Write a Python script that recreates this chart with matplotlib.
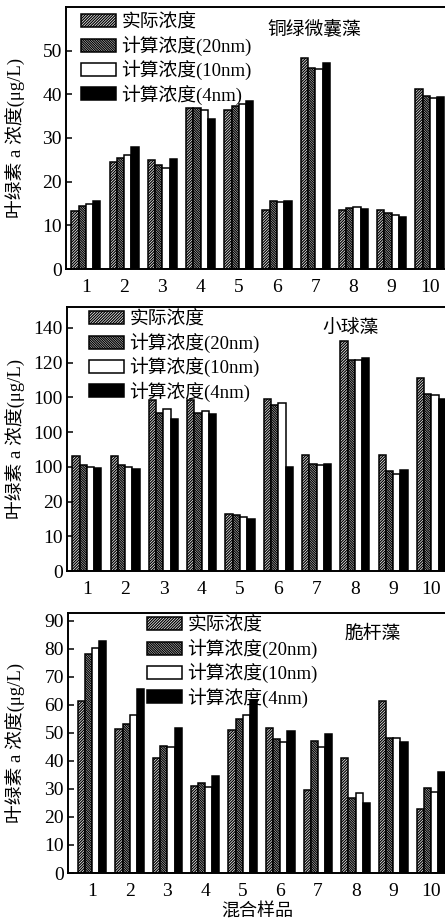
import matplotlib
matplotlib.use('Agg')
import matplotlib.pyplot as plt
import numpy as np

plt.rcParams['font.family'] = ['Liberation Serif', 'Noto Sans CJK SC']
plt.rcParams['hatch.linewidth'] = 0.9

samples = ['1', '2', '3', '4', '5', '6', '7', '8', '9', '10']
series_names = ['实际浓度', '计算浓度(20nm)', '计算浓度(10nm)', '计算浓度(4nm)']

# 铜绿微囊藻
tl_actual = [13.2, 24.5, 24.9, 36.8, 36.5, 13.4, 48.3, 13.4, 13.4, 41.2]
tl_20nm = [14.4, 25.4, 23.9, 36.9, 37.4, 15.6, 46.1, 13.9, 12.8, 39.7]
tl_10nm = [14.8, 26.1, 23.2, 36.4, 37.7, 15.4, 45.8, 14.2, 12.3, 39.1]
tl_4nm = [15.5, 27.9, 25.1, 34.4, 38.5, 15.6, 47.2, 13.8, 11.9, 39.5]

# 小球藻
xq_actual = [66.4, 66.4, 98.6, 98.6, 33.0, 98.8, 66.6, 132.3, 67.0, 111.0]
xq_20nm = [61.2, 61.0, 91.0, 91.0, 32.4, 95.7, 61.8, 121.2, 57.5, 102.0]
xq_10nm = [59.8, 60.0, 93.2, 92.4, 31.0, 96.7, 61.2, 121.6, 56.0, 101.3]
xq_4nm = [59.3, 58.7, 87.6, 90.5, 30.0, 59.8, 61.4, 122.6, 58.3, 99.2]

# 脆杆藻
cg_actual = [61.4, 51.5, 41.2, 31.0, 51.0, 51.7, 29.7, 41.1, 61.4, 23.0]
cg_20nm = [78.1, 53.2, 45.4, 32.3, 55.1, 48.0, 47.0, 26.8, 48.3, 30.4]
cg_10nm = [80.4, 56.4, 44.8, 30.8, 56.3, 46.9, 44.9, 28.4, 48.3, 28.9]
cg_4nm = [82.9, 65.6, 51.7, 34.8, 61.8, 50.7, 49.5, 25.1, 46.6, 35.9]

tl_yticks = [0, 10, 20, 30, 40, 50]
tl_ylabels = ['0', '10', '20', '30', '40', '50']
xq_yticks = [0, 20, 40, 60, 80, 100, 120, 140]
xq_ylabels = ['0', '10', '20', '100', '100', '100', '120', '140']
cg_yticks = [0, 10, 20, 30, 40, 50, 60, 70, 80, 90]
cg_ylabels = ['0', '10', '20', '30', '40', '50', '60', '70', '80', '90']

W, H = 445, 924
fig = plt.figure(figsize=(W / 100, H / 100), dpi=100)

styles = [
    dict(facecolor='white', hatch='////////////', edgecolor='black'),
    dict(facecolor='white', hatch='\\\\\\\\\\\\\\\\\\\\\\\\\\\\', edgecolor='black'),
    dict(facecolor='white', edgecolor='black'),
    dict(facecolor='black', edgecolor='black'),
]


def panel(box, data, title, title_xy, yticks, ylabels, ylim, xlim, leg_anchor):
    left, top, right, bottom = box
    ax = fig.add_axes([left / W, 1 - bottom / H, (right - left) / W, (bottom - top) / H])
    x = np.arange(1, len(samples) + 1)
    bw = 0.19
    for i, vals in enumerate(data):
        ax.bar(x + (i - 1.5) * bw, vals, bw, linewidth=1.1, label=series_names[i], **styles[i])
    ax.set_xlim(*xlim)
    ax.set_ylim(*ylim)
    ax.set_xticks(x)
    ax.set_xticklabels(samples, fontsize=14)
    ax.set_yticks(yticks)
    ax.set_yticklabels(ylabels, fontsize=14)
    ax.tick_params(axis='y', direction='in', length=4, width=1.1, pad=3)
    ax.tick_params(axis='x', length=0, pad=7)
    for s in ax.spines.values():
        s.set_linewidth(1.4)
    ax.set_ylabel('叶绿素 a 浓度(μg/L)', fontsize=13.5)
    ax.yaxis.set_label_coords((26 - left) / (right - left), 0.5)
    fig.text(title_xy[0] / W, 1 - title_xy[1] / H, title,
             fontsize=13.5, ha='left', va='center')
    ax.legend(loc='upper left', bbox_to_anchor=(leg_anchor[0] / W, 1 - leg_anchor[1] / H),
              bbox_transform=fig.transFigure, frameon=False, fontsize=13.5,
              handlelength=1.85, handleheight=0.7, labelspacing=0.22,
              handletextpad=0.3, borderpad=0, borderaxespad=0)
    return ax


panel((66, 7, 446, 269), [tl_actual, tl_20nm, tl_10nm, tl_4nm], '铜绿微囊藻', (267, 29),
      tl_yticks, tl_ylabels, (0, 60), (0.48, 10.42), (81, 14))
panel((67, 307, 446, 571), [xq_actual, xq_20nm, xq_10nm, xq_4nm], '小球藻', (322, 328),
      xq_yticks, xq_ylabels, (0, 152), (0.48, 10.38), (89, 311))
ax3 = panel((68, 613, 446, 873), [cg_actual, cg_20nm, cg_10nm, cg_4nm], '脆杆藻', (345, 634),
            cg_yticks, cg_ylabels, (0, 92.8), (0.36, 10.4), (147, 617))
ax3.set_xlabel('混合样品', fontsize=13, labelpad=3)

fig.savefig('out.png', dpi=100)
